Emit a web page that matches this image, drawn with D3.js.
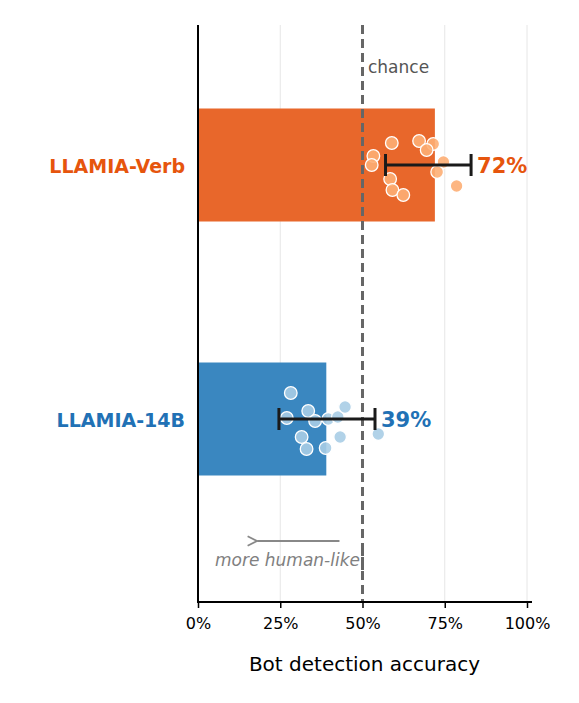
<!DOCTYPE html><html><head><meta charset="utf-8"><script src="https://cdn.jsdelivr.net/npm/d3@7"></script>
<style>body{margin:0;background:#fff}</style></head><body><svg id="c" width="579" height="703"></svg><script>
const categories=["LLAMIA-Verb","LLAMIA-14B"];
const accuracy=[72,39];
const errLow=[57,24.6], errHigh=[83,53.8];
const pointsVerb=[58.9,67.2,71.5,69.5,53.3,52.8,74.6,72.7,58.4,59.1,62.4,78.6];
const offsVerb=[-22,-24,-21,-15,-9,0,-3,7,14,25,30,21];
const points14=[28.2,27.0,33.5,35.6,39.6,42.5,44.7,31.5,33.0,38.8,43.2,54.8];
const offs14=[-26,-1,-8,2,0,-2,-12,18,30,29,18,15];
const ticks=[0,25,50,75,100];
const barCol=["#e8672b","#3a87c0"], ptCol=["#fdae74","#a8cde6"], txtCol=["#e6550d","#2171b5"];
const svg=d3.select("#c");
const x=d3.scaleLinear().domain([0,100]).range([198,527]);
const y=d3.scalePoint().domain(categories).range([165,419]);
const bh=113;
svg.append("g").selectAll("line").data([25,75,100]).join("line").attr("x1",d=>x(d)).attr("x2",d=>x(d)).attr("y1",25).attr("y2",602).attr("stroke","#e6e6e6");
categories.forEach((c,i)=>{
 svg.append("rect").attr("x",x(0)).attr("y",y(c)-bh/2).attr("width",x(accuracy[i])-x(0)).attr("height",bh).attr("fill",barCol[i]);
});
svg.append("line").attr("x1",x(50)).attr("x2",x(50)).attr("y1",25).attr("y2",602).attr("stroke","#666").attr("stroke-width",3).attr("stroke-dasharray","9,5");
const sets=[[pointsVerb,offsVerb],[points14,offs14]];
categories.forEach((c,i)=>{
 const [p,o]=sets[i];
 svg.append("g").selectAll("circle").data(p).join("circle").attr("cx",d=>x(d)).attr("cy",(d,j)=>y(c)+o[j]).attr("r",6.3).attr("fill",ptCol[i]).attr("fill-opacity",0.9).attr("stroke","#fff").attr("stroke-width",1.3);
 const g=svg.append("g").attr("stroke","#1a1a1a").attr("stroke-width",3);
 g.append("line").attr("x1",x(errLow[i])).attr("x2",x(errHigh[i])).attr("y1",y(c)).attr("y2",y(c));
 [errLow[i],errHigh[i]].forEach(v=>g.append("line").attr("x1",x(v)).attr("x2",x(v)).attr("y1",y(c)-11).attr("y2",y(c)+11));
 svg.append("text").attr("x",x(errHigh[i])+6).attr("y",y(c)+8).attr("fill",txtCol[i]).attr("font-family","DejaVu Sans").attr("font-weight","bold").attr("font-size",21).text(accuracy[i]+"%");
 svg.append("text").attr("x",185).attr("y",y(c)+8).attr("text-anchor","end").attr("fill",txtCol[i]).attr("font-family","DejaVu Sans").attr("font-weight","bold").attr("font-size",19).text(c);
});
svg.append("text").attr("x",368).attr("y",73).attr("fill","#555").attr("font-family","DejaVu Sans").attr("font-size",17).text("chance");
svg.append("defs").append("marker").attr("id","ah").attr("viewBox","0 0 10 10").attr("refX",1).attr("refY",5).attr("markerWidth",6).attr("markerHeight",6).attr("orient","auto").append("path").attr("d","M9,1L1,5L9,9").attr("fill","none").attr("stroke","#888").attr("stroke-width",1.5);
svg.append("line").attr("x1",x(43)).attr("x2",x(18)).attr("y1",541).attr("y2",541).attr("stroke","#888").attr("stroke-width",2).attr("marker-end","url(#ah)");
svg.append("text").attr("x",215).attr("y",566).attr("fill","#808080").attr("font-family","DejaVu Sans").attr("font-style","italic").attr("font-size",17).text("more human-like");
// redraw dashed line segment over text
svg.append("line").attr("x1",x(50)).attr("x2",x(50)).attr("y1",545).attr("y2",575).attr("stroke","#666").attr("stroke-width",3).attr("stroke-dasharray","9,5").attr("stroke-dashoffset",-520%14);
const ax=svg.append("g").attr("transform","translate(0,602)").call(d3.axisBottom(x).tickValues(ticks).tickFormat(d=>d+"%").tickSize(6));
ax.select(".domain").attr("stroke-width",2).attr("d","M198,0H532");
ax.selectAll("text").attr("font-family","DejaVu Sans").attr("font-size",16).attr("dy","1.1em").attr("fill","#000");
ax.selectAll(".tick line").attr("stroke-width",1.5);
svg.append("line").attr("x1",198).attr("x2",198).attr("y1",25).attr("y2",603).attr("stroke","#000").attr("stroke-width",2);
svg.append("text").attr("x",x(50)+2).attr("y",671).attr("text-anchor","middle").attr("font-family","DejaVu Sans").attr("font-size",20).text("Bot detection accuracy");
</script></body></html>
